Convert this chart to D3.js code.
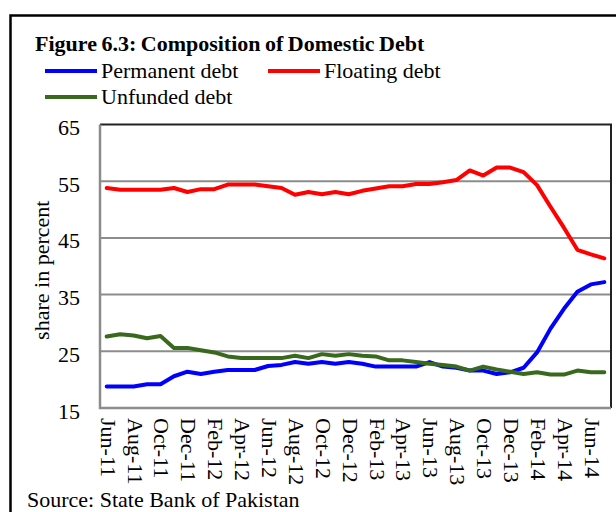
<!DOCTYPE html>
<html>
<head>
<meta charset="utf-8">
<script src="https://cdn.jsdelivr.net/npm/d3@7/dist/d3.min.js"></script>
<style>
  html, body { margin: 0; padding: 0; background: #fff; }
  svg { display: block; }
  text { font-family: "Liberation Serif", "Times New Roman", serif; fill: #000; }
</style>
</head>
<body>
<svg id="chart" width="616" height="512"></svg>
<script>
// Monthly categories, Jun-11 .. Jul-14
const months = [
  "Jun-11","Jul-11","Aug-11","Sep-11","Oct-11","Nov-11","Dec-11","Jan-12","Feb-12","Mar-12",
  "Apr-12","May-12","Jun-12","Jul-12","Aug-12","Sep-12","Oct-12","Nov-12","Dec-12","Jan-13",
  "Feb-13","Mar-13","Apr-13","May-13","Jun-13","Jul-13","Aug-13","Sep-13","Oct-13","Nov-13",
  "Dec-13","Jan-14","Feb-14","Mar-14","Apr-14","May-14","Jun-14","Jul-14"
];

// Labelled months on the category axis
const xTickLabels = [
  "Jun-11","Aug-11","Oct-11","Dec-11","Feb-12","Apr-12","Jun-12","Aug-12","Oct-12","Dec-12",
  "Feb-13","Apr-13","Jun-13","Aug-13","Oct-13","Dec-13","Feb-14","Apr-14","Jun-14"
];

const yTickValues = [15, 25, 35, 45, 55, 65];

// Shares of domestic debt, percent
const permanentDebt = [
  18.8,18.8,18.8,19.2,19.2,20.6,21.4,21.0,21.4,21.7,
  21.7,21.7,22.4,22.6,23.1,22.8,23.1,22.8,23.1,22.8,
  22.3,22.3,22.3,22.3,23.1,22.3,22.1,21.6,21.6,21.0,
  21.3,22.1,24.8,29.0,32.5,35.5,36.8,37.2
];
const floatingDebt = [
  53.8,53.5,53.5,53.5,53.5,53.8,53.1,53.6,53.6,54.4,
  54.4,54.4,54.1,53.8,52.6,53.1,52.7,53.1,52.7,53.3,
  53.7,54.1,54.1,54.5,54.5,54.8,55.2,56.9,56.0,57.4,
  57.4,56.6,54.3,50.5,46.8,42.9,42.1,41.4
];
const unfundedDebt = [
  27.6,28.0,27.8,27.3,27.7,25.6,25.6,25.2,24.8,24.1,
  23.8,23.8,23.8,23.8,24.2,23.8,24.5,24.2,24.5,24.2,
  24.1,23.4,23.4,23.1,22.8,22.6,22.3,21.6,22.3,21.8,
  21.4,21.0,21.3,20.9,20.9,21.6,21.3,21.3
];

const seriesNames = ["Permanent debt", "Floating debt", "Unfunded debt"];
const seriesColors = ["#0000ff", "#ff0000", "#38691d"];
const seriesValues = [permanentDebt, floatingDebt, unfundedDebt];

const svg = d3.select("#chart");

// Outer frame of the figure box
svg.append("rect")
  .attr("x", 10.5).attr("y", 15.5)
  .attr("width", 640).attr("height", 540)
  .attr("fill", "none").attr("stroke", "#000").attr("stroke-width", 2.5);

// Title
svg.append("text")
  .attr("x", 35).attr("y", 51)
  .attr("font-size", 22).attr("font-weight", "bold")
  .attr("word-spacing", -1)
  .text("Figure 6.3: Composition of Domestic Debt");

// Legend
const legendPos = [[45, 71], [268, 71], [45, 97]];
seriesNames.forEach((name, i) => {
  const [lx, ly] = legendPos[i];
  svg.append("line")
    .attr("x1", lx).attr("x2", lx + 52).attr("y1", ly).attr("y2", ly)
    .attr("stroke", seriesColors[i]).attr("stroke-width", 4);
  svg.append("text")
    .attr("x", lx + 56).attr("y", ly + 7)
    .attr("font-size", 22)
    .text(name);
});

// Plot area
const plot = { left: 100, right: 611, top: 124.5, bottom: 408 };

const x = d3.scalePoint()
  .domain(months)
  .range([plot.left, plot.right])
  .padding(0.5);

const y = d3.scaleLinear()
  .domain([15, 65])
  .range([plot.bottom, plot.top]);

// Horizontal gridlines
svg.append("g")
  .selectAll("line")
  .data(yTickValues.filter(v => v > 15 && v < 65))
  .join("line")
  .attr("x1", plot.left).attr("x2", plot.right)
  .attr("y1", d => y(d)).attr("y2", d => y(d))
  .attr("stroke", "#8c8c8c").attr("stroke-width", 2);

// Plot border: dark top/right, grey axis lines left/bottom
svg.append("path")
  .attr("d", `M${plot.left},${plot.top}H${plot.right}V${plot.bottom}`)
  .attr("fill", "none").attr("stroke", "#222").attr("stroke-width", 2);
svg.append("path")
  .attr("d", `M${plot.left},${plot.top}V${plot.bottom}H${plot.right}`)
  .attr("fill", "none").attr("stroke", "#8c8c8c").attr("stroke-width", 2.5);

// Y axis labels
const yAxis = svg.append("g")
  .attr("transform", `translate(${plot.left - 20},3)`)
  .call(d3.axisLeft(y).tickValues(yTickValues).tickSize(0).tickPadding(0).tickFormat(d3.format("d")));
yAxis.select(".domain").remove();
yAxis.selectAll("text")
  .attr("font-size", 22)
  .attr("font-family", "Liberation Serif, serif")
  .attr("fill", "#000");

// Y axis title
svg.append("text")
  .attr("transform", `translate(49,${(y(15) + y(65)) / 2 + 4}) rotate(-90)`)
  .attr("text-anchor", "middle")
  .attr("font-size", 22)
  .text("share in percent");

// X axis labels, rotated to read downward
const xAxis = svg.append("g")
  .attr("transform", `translate(0,${plot.bottom})`)
  .call(d3.axisBottom(x).tickValues(xTickLabels).tickSize(0).tickPadding(0));
xAxis.select(".domain").remove();
xAxis.selectAll("text")
  .attr("font-size", 22)
  .attr("font-family", "Liberation Serif, serif")
  .attr("fill", "#000")
  .attr("text-anchor", "start")
  .attr("transform", "rotate(90)")
  .attr("x", 10)
  .attr("y", 0)
  .attr("dy", "0.3em");

// Series lines
const line = d3.line()
  .x((d, i) => x(months[i]))
  .y(d => y(d));

svg.append("g")
  .selectAll("path")
  .data(seriesValues)
  .join("path")
  .attr("d", d => line(d))
  .attr("fill", "none")
  .attr("stroke", (d, i) => seriesColors[i])
  .attr("stroke-width", 4)
  .attr("stroke-linejoin", "round")
  .attr("stroke-linecap", "round");

// Source note
svg.append("text")
  .attr("x", 27).attr("y", 507)
  .attr("font-size", 22)
  .text("Source: State Bank of Pakistan");
</script>
</body>
</html>
